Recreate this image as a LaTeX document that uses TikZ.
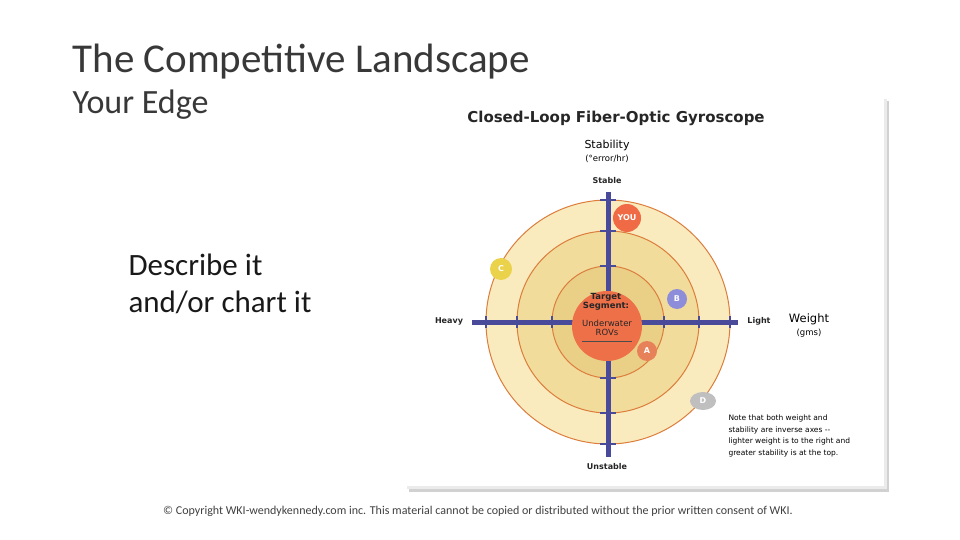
\documentclass[tikz,border=0pt]{standalone}
\usepackage{fontspec}
\usetikzlibrary{shapes.geometric}
\setmainfont{Carlito}
\newfontfamily\chartfont{DejaVu Sans}
\definecolor{r1}{HTML}{F9EBBE}
\definecolor{r2}{HTML}{F2DC9C}
\definecolor{r3}{HTML}{EACF86}
\definecolor{rl}{HTML}{DC7D3C}
\definecolor{tgc}{HTML}{EE7049}
\definecolor{ax}{HTML}{4A4A9A}
\begin{document}
\begin{tikzpicture}[x=1pt,y=-1pt,
  ring/.style={draw=rl,line width=1pt},
  axis/.style={draw=ax,line width=5pt},
  tick/.style={draw=ax,line width=1.2pt},
  lbl/.style={font=\chartfont\bfseries\fontsize{8}{9}\selectfont,text=black!85},
  dot/.style={circle,inner sep=0pt,text=white,font=\chartfont\bfseries\fontsize{8}{9}\selectfont}]
\useasboundingbox (0,0) rectangle (960,540);
\fill[white] (0,0) rectangle (960,540);
% card
\fill[black!18] (409,101) rectangle (889,492);
\fill[black!8] (407,99) rectangle (887,489);
\fill[white] (405,97) rectangle (884,486);
% texts
\node[anchor=west,font=\fontsize{41}{46}\selectfont,text=black!78] (t1) at (69,62) {The Competitive Landscape};
\node[anchor=west,font=\fontsize{34}{38}\selectfont,text=black!78] (t2) at (69,105) {Your Edge};
\node[anchor=west,align=left,font=\fontsize{31}{37}\selectfont,text=black!90] (t3) at (125,284) {Describe it\\and/or chart it};
\node[font=\fontsize{12}{14}\selectfont,text=black!75] (cp) at (478,511) {\textcopyright{} Copyright WKI-wendykennedy.com inc. This material cannot be copied or distributed without the prior written consent of WKI.};
% chart
\node[font=\chartfont\bfseries\fontsize{15}{17}\selectfont,text=black!85] (ct) at (616,118) {Closed-Loop Fiber-Optic Gyroscope};
\fill[r1] (608,322) circle (122);
\draw[ring] (608,322) circle (122);
\fill[r2] (608,322) circle (91);
\draw[ring] (608,322) circle (91);
\fill[r3] (608,322) circle (56);
\draw[ring] (608,322) circle (56);
\draw[axis] (472,322) -- (738,322);
\draw[axis] (608,192) -- (608,457);
\foreach \r in {56,91,122}{
  \draw[tick] (608-\r,316) -- (608-\r,328);
  \draw[tick] (608+\r,316) -- (608+\r,328);
  \draw[tick] (600,322-\r) -- (616,322-\r);
  \draw[tick] (600,322+\r) -- (616,322+\r);
}
\node[circle,fill=tgc,minimum size=70pt,inner sep=0pt] (tg) at (607,326) {};
\node[font=\chartfont\bfseries\fontsize{8.5}{9}\selectfont,text=black!85,align=center] (tg1) at (606,302) {Target\\Segment:};
\node[font=\chartfont\fontsize{8.5}{9}\selectfont,text=black!85,align=center] (tg2) at (607,328) {Underwater\\ROVs};
\draw[black!70,line width=0.6pt] (582,341) -- (632,341);
\node[dot,fill=tgc!95!red,minimum size=28pt] (you) at (627,218) {YOU};
\node[dot,fill=yellow!60!brown!85,minimum size=22pt] (c) at (501,269) {C};
\node[dot,fill=blue!35!white!85!black,minimum size=20pt] (b) at (677,299) {B};
\node[dot,fill=tgc!80!brown!90,minimum size=20pt] (a) at (647,351) {A};
\node[ellipse,fill=black!25,text=white,inner sep=0pt,minimum width=26pt,minimum height=18pt,font=\chartfont\bfseries\fontsize{8}{9}\selectfont] (d) at (703,401) {D};
\node[lbl] (st) at (607,181) {Stable};
\node[lbl] (un) at (607,467) {Unstable};
\node[lbl] (hv) at (449,321) {Heavy};
\node[lbl] (lt) at (759,321) {Light};
\node[font=\chartfont\fontsize{11}{13}\selectfont,align=center] (sy) at (607,151) {Stability\\{\fontsize{8.5}{9}\selectfont(°error/hr)}};
\node[font=\chartfont\fontsize{11.5}{13}\selectfont,align=center] (wt) at (809,326) {Weight\\{\fontsize{8.5}{9}\selectfont(gms)}};
\node[anchor=north west,align=left,font=\chartfont\fontsize{7.5}{11.8}\selectfont] (nt) at (725,411) {Note that both weight and\\stability are inverse axes --\\lighter weight is to the right and\\greater stability is at the top.};
\end{tikzpicture}
\end{document}
